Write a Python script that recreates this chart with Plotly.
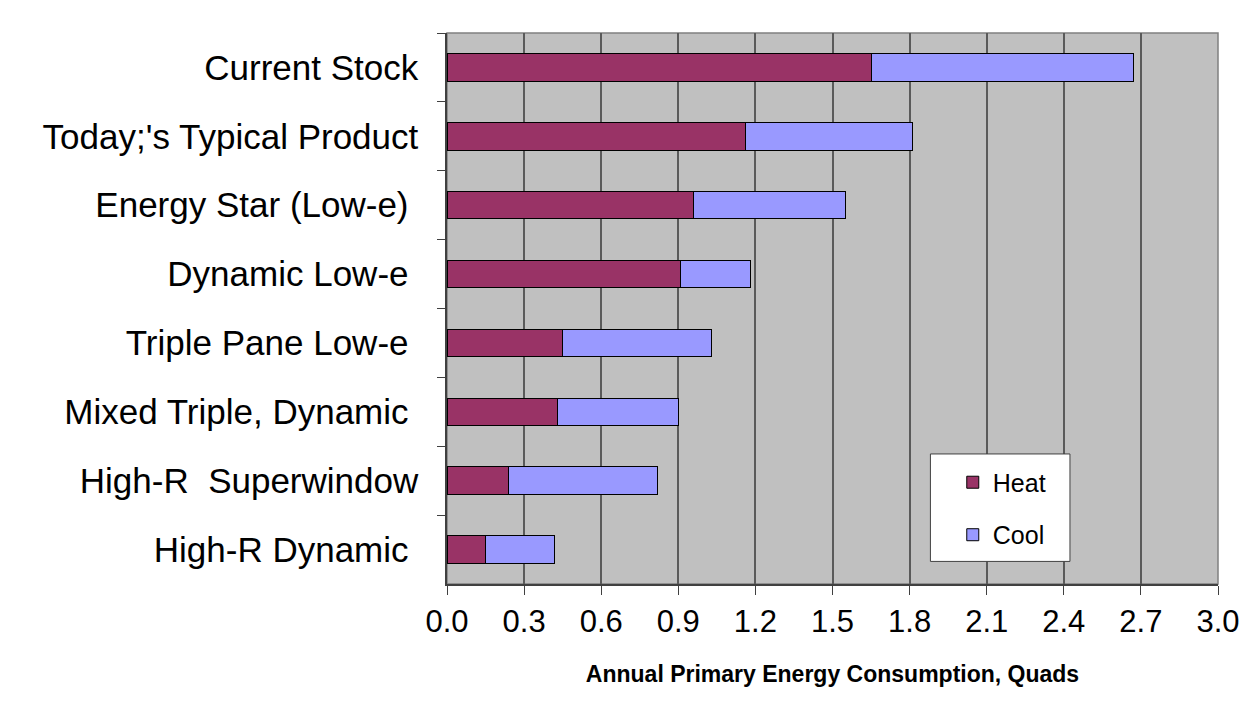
import plotly.graph_objects as go

categories = [
    "Current Stock",
    "Today;'s Typical Product",
    "Energy Star (Low-e)\u00a0",
    "Dynamic Low-e\u00a0",
    "Triple Pane Low-e\u00a0",
    "Mixed Triple, Dynamic\u00a0",
    "High-R  Superwindow",
    "High-R Dynamic\u00a0",
]
heat = [1.65, 1.16, 0.96, 0.91, 0.45, 0.43, 0.24, 0.15]
cool = [1.02, 0.65, 0.59, 0.27, 0.58, 0.47, 0.58, 0.27]
x_ticks = [0.0, 0.3, 0.6, 0.9, 1.2, 1.5, 1.8, 2.1, 2.4, 2.7, 3.0]
x_tick_labels = ["0.0", "0.3", "0.6", "0.9", "1.2", "1.5", "1.8", "2.1", "2.4", "2.7", "3.0"]

FONT = "Liberation Sans, Arial, sans-serif"

fig = go.Figure()
fig.add_trace(go.Bar(
    y=categories, x=heat, name="Heat", orientation="h",
    marker=dict(color="#993366", line=dict(color="#000000", width=1)),
    legendgroup="heat",
))
fig.add_trace(go.Bar(
    y=categories, x=cool, name="Cool", orientation="h",
    marker=dict(color="#9999FF", line=dict(color="#000000", width=1)),
    legendgroup="cool",
))

# legend box
fig.add_shape(type="rect", xref="paper", yref="paper",
              x0=0.627, x1=0.808, y0=0.041, y1=0.236,
              fillcolor="white", line=dict(color="#404040", width=1), layer="above")
# plot border (top/right)
fig.add_shape(type="rect", xref="paper", yref="paper", x0=0, x1=1, y0=0, y1=1,
              line=dict(color="#808080", width=1.5), layer="below")

fig.update_layout(
    width=1250, height=703,
    margin=dict(l=439, r=40, t=25, b=127),
    paper_bgcolor="white",
    plot_bgcolor="#C0C0C0",
    barmode="stack",
    bargap=0.6,
    font=dict(family=FONT, color="#000000"),
    showlegend=True,
    legend=dict(
        x=0.656, y=0.226, xanchor="left", yanchor="top",
        bgcolor="rgba(0,0,0,0)", borderwidth=0,
        font=dict(size=25, family=FONT),
        traceorder="grouped", tracegroupgap=17,
        itemwidth=30,
    ),
    xaxis=dict(
        range=[0, 3.0],
        tickmode="array", tickvals=x_ticks, ticktext=x_tick_labels,
        ticks="outside", ticklen=9, tickcolor="#404040", tickwidth=1,
        tickfont=dict(size=31, family=FONT),
        showgrid=True, gridcolor="#5a5a5a", gridwidth=1.5,
        showline=True, linecolor="#404040", linewidth=1.5,
        zeroline=False,
        title=dict(text="<b>Annual Primary Energy Consumption, Quads</b>",
                   font=dict(size=23, family=FONT), standoff=28),
    ),
    yaxis=dict(
        categoryorder="array", categoryarray=categories,
        autorange="reversed",
        tickson="boundaries",
        ticks="outside", ticklen=8, tickcolor="#404040", tickwidth=1,
        ticklabelstandoff=20,
        tickfont=dict(size=35, family=FONT),
        showgrid=False,
        showline=True, linecolor="#404040", linewidth=1.5,
    ),
)

fig.write_html("out.html")
